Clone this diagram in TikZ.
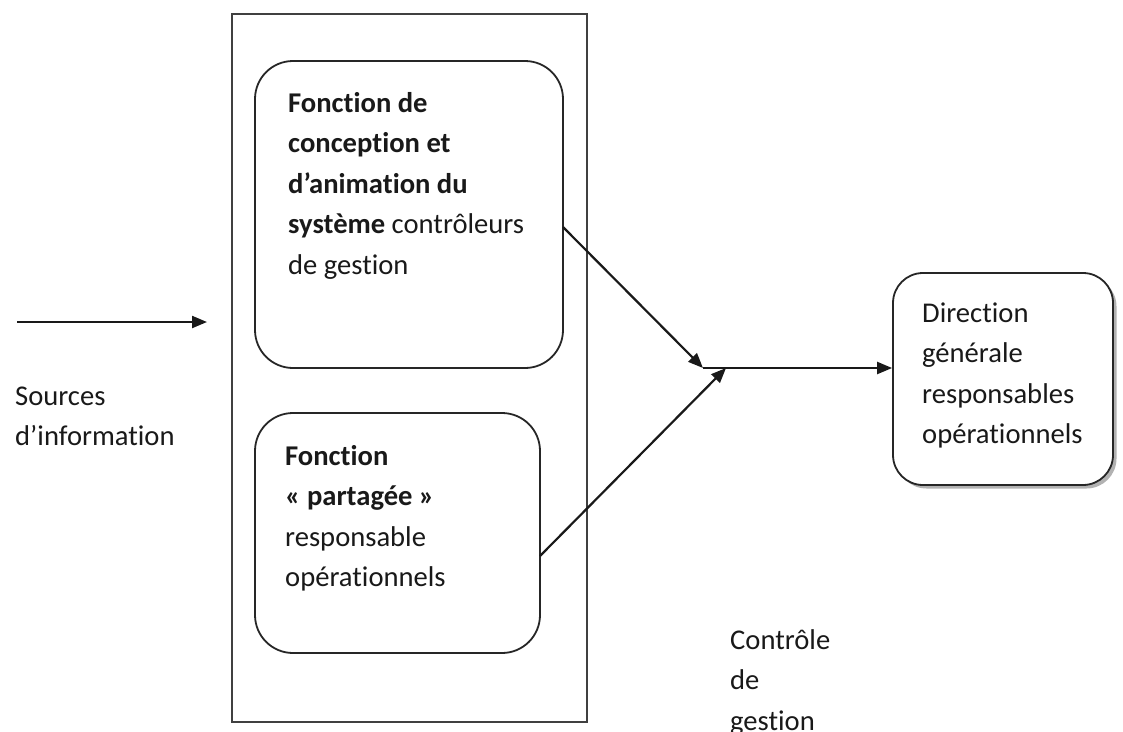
\documentclass[tikz,border=0pt]{standalone}
\usepackage{fontspec}
\setmainfont[Ligatures={NoCommon}]{Carlito}
\usetikzlibrary{arrows.meta,shadows}

\tikzset{
  frame/.style={draw=black!75, line width=2pt, minimum width=355pt, minimum height=708pt, inner sep=0pt},
  roundbox/.style={draw=black!85, line width=1.8pt, rounded corners=38pt, inner sep=0pt, fill=white},
  txt/.style={anchor=north west, align=left, inner sep=0pt, text=black!90,
              font=\fontsize{28.6}{40.5}\selectfont},
  flow/.style={line width=2.2pt, draw=black!90, -{Triangle[length=15pt,width=12pt]}}
}

\begin{document}
\begin{tikzpicture}[x=1pt,y=-1pt]
  \useasboundingbox (0,0) rectangle (1123,731);

  % outer frame holding the two functions
  \node[frame] (frame) at (409,368) {};

  % the two functions
  \node[roundbox, minimum width=308pt, minimum height=307pt] (conc) at (409,214.5) {};
  \node[roundbox, minimum width=285pt, minimum height=240pt] (part) at (397.5,533) {};

  % recipients
  \node[roundbox, rounded corners=30pt, minimum width=220pt, minimum height=212pt,
        drop shadow={shadow xshift=3.5pt, shadow yshift=-3.5pt, fill=black!60}] (dir) at (1003,379) {};

  % texts
  \node[txt] (tconc) at (288,83.6) {\strut\textbf{Fonction de}\\\textbf{conception et}\\\textbf{d’animation du}\\\textbf{système} contrôleurs\\de gestion};
  \node[txt] (tpart) at (285,436.6) {\strut\textbf{Fonction}\\\textbf{« partagée »}\\responsable\\opérationnels};
  \node[txt] (tdir) at (922,293.6) {\strut Direction\\générale\\responsables\\opérationnels};
  \node[txt] (tsrc) at (15,376.6) {\strut Sources\\d’information};
  \node[txt] (tcg) at (730,620.6) {\strut Contrôle\\de\\gestion};

  % incoming information
  \coordinate (srcA) at (17,322);
  \coordinate (srcB) at (207,322);
  \draw[flow] (srcA) -- (srcB);

  % convergence towards the management
  \coordinate (j1) at (703,368);
  \coordinate (j2) at (726,368);
  \coordinate (concOut) at (563,227);
  \coordinate (partOut) at (540,556);
  \draw[flow] (concOut) -- (j1);
  \draw[flow] (partOut) -- (j2);
  \draw[flow] (j1) -- (j1 -| dir.west);
\end{tikzpicture}
\end{document}
